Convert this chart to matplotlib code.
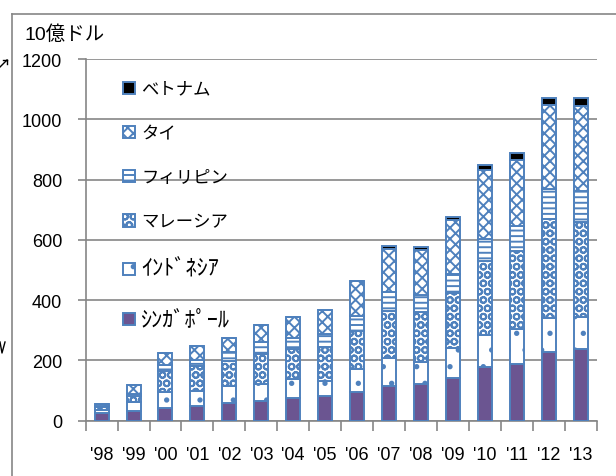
import numpy as np
import matplotlib
matplotlib.use("Agg")
import matplotlib.pyplot as plt
from matplotlib.lines import Line2D
from matplotlib.patches import Patch

plt.rcParams['font.family'] = ['Liberation Sans', 'Noto Sans CJK JP']
plt.rcParams['hatch.linewidth'] = 1.4

years = ["'98", "'99", "'00", "'01", "'02", "'03", "'04", "'05",
         "'06", "'07", "'08", "'09", "'10", "'11", "'12", "'13"]

# 10億ドル, stacked bottom -> top
singapore   = [25, 31, 42, 48, 59, 64, 77, 82, 95, 116, 122, 141, 177, 188, 227, 238]
indonesia   = [10, 30, 52, 52, 57, 58, 60, 51, 77, 91, 74, 99, 107, 116, 113, 107]
malaysia    = [10, 22, 72, 83, 83, 99, 100, 110, 127, 158, 164, 184, 247, 258, 329, 313]
philippines = [3, 5, 18, 20, 28, 39, 36, 45, 50, 63, 58, 63, 72, 83, 100, 103]
thailand    = [8, 30, 40, 44, 47, 58, 72, 80, 115, 142, 149, 179, 229, 220, 279, 282]
vietnam     = [0, 0, 0, 0, 0, 0, 0, 0, 0, 10, 8, 9, 16, 22, 22, 27]

names = ['ｼﾝｶﾞﾎﾟｰﾙ', 'ｲﾝﾄﾞﾈｼｱ', 'マレーシア', 'フィリピン', 'タイ', 'ベトナム']
series = [singapore, indonesia, malaysia, philippines, thailand, vietnam]
faces = ['#6B5591', 'white', 'white', 'white', 'white', 'black']
hatches = [None, '.', 'OO', '---', 'xxx', None]
blue = '#4F81BD'
grey = '#868686'

fig = plt.figure(figsize=(6.16, 4.77), dpi=100)
ax = fig.add_axes([0.139, 0.1159, 0.8296, 0.7583])

x = np.arange(len(years))
bottom = np.zeros(len(years))
handles = []
for vals, name, fc, h in zip(series, names, faces, hatches):
    ax.bar(x, vals, width=0.44, bottom=bottom, color=fc, edgecolor=blue,
           linewidth=1.4, hatch=h, zorder=3)
    handles.append(Patch(facecolor=fc, edgecolor=blue, hatch=h, linewidth=1.4, label=name))
    bottom += np.array(vals)

ax.set_xlim(-0.5, len(years) - 0.5)
ax.set_ylim(0, 1200)
ax.set_yticks(range(0, 1201, 200))
ax.set_xticks(x)
ax.set_xticklabels(years, fontsize=13)
ax.set_xticks(np.arange(-0.5, len(years)), minor=True)
ax.tick_params(axis='x', which='major', length=0, pad=18)
ax.tick_params(axis='x', which='minor', length=7, color=grey, width=1.2)
ax.tick_params(axis='y', length=6, color=grey, width=1.2, pad=11, labelsize=13)
ax.grid(axis='y', color=grey, linewidth=1.2, zorder=0)
for s in ['top', 'right']:
    ax.spines[s].set_visible(False)
for s in ['left', 'bottom']:
    ax.spines[s].set_color(grey)
    ax.spines[s].set_linewidth(1.2)

leg = ax.legend(handles=handles[::-1], loc='upper left', bbox_to_anchor=(0.06, 0.957),
                frameon=False, fontsize=12.5, handlelength=0.7, handleheight=0.7,
                handletextpad=0.35, labelspacing=1.68, borderaxespad=0)
# half-width katakana labels look larger in the original
for t in leg.get_texts()[4:]:
    t.set_fontsize(16)

fig.text(25 / 616, 1 - 35 / 477, '10億ドル', fontsize=14, va='center', ha='left')

# outer chart frame
fig.add_artist(Line2D([12 / 616, 1.0], [1 - 15 / 477, 1 - 15 / 477], color=grey, lw=1.2))
fig.add_artist(Line2D([12 / 616, 12 / 616], [0, 1 - 15 / 477], color=grey, lw=1.2))
# cut-off marks at left edge
fig.add_artist(Line2D([0 / 616, 7 / 616], [1 - 68 / 477, 1 - 61 / 477], color='black', lw=1))
fig.add_artist(Line2D([3 / 616, 7 / 616], [1 - 61 / 477, 1 - 61 / 477], color='black', lw=1))
fig.add_artist(Line2D([7 / 616, 7 / 616], [1 - 61 / 477, 1 - 65 / 477], color='black', lw=1))
fig.add_artist(Line2D([0 / 616, 2 / 616, 5 / 616], [1 - 343 / 477, 1 - 354 / 477, 1 - 343 / 477],
                      color='black', lw=1))

fig.savefig('out.png', dpi=100)
